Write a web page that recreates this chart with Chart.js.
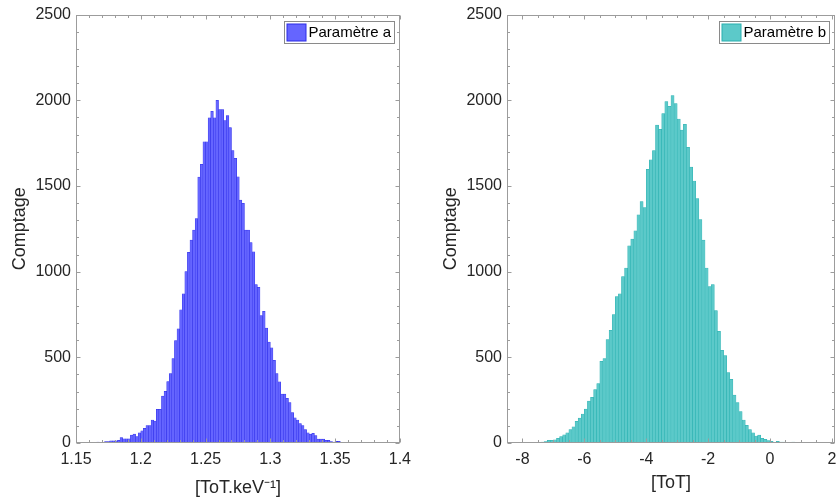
<!DOCTYPE html>
<html>
<head>
<meta charset="utf-8">
<script src="https://cdn.jsdelivr.net/npm/chart.js@4/dist/chart.umd.min.js"></script>
<style>
  html, body { margin: 0; padding: 0; background: #fff; overflow: hidden; width: 837px; height: 499px; }
  .panel { position: absolute; top: 0; }
</style>
</head>
<body>
<div class="panel" style="left:0"><canvas id="chartA" width="418" height="499"></canvas></div>
<div class="panel" style="left:431px"><canvas id="chartB" width="420" height="499"></canvas></div>
<script>
// histogram of parameter a : bins of 0.002 starting at 1.166
var aBinStart = 1.166;
var aBinWidth = 0.002;
var aCounts = [5, 0, 2, 8, 8, 12, 12, 12, 15, 31,
  25, 25, 25, 46, 52, 37, 60, 71, 85, 101,
  101, 134, 128, 196, 196, 274, 302, 358, 405, 492,
  598, 666, 777, 870, 1000, 1112, 1184, 1242, 1310, 1552,
  1626, 1758, 1758, 1897, 1936, 1897, 2000, 1946, 1946, 1882,
  1911, 1841, 1707, 1661, 1554, 1417, 1399, 1242, 1242, 1170,
  1116, 924, 909, 744, 769, 670, 589, 556, 483, 405,
  357, 285, 285, 260, 236, 178, 147, 134, 114, 101,
  79, 60, 52, 56, 43, 23, 23, 23, 15, 15,
  8, 5, 10, 10];
var aTicks = [1.15, 1.2, 1.25, 1.3, 1.35, 1.4];

// histogram of parameter b : bins of 0.1 starting at -7.5
var bBinStart = -7.5;
var bBinWidth = 0.1;
var bCounts = [3, 5, 8, 15, 15, 19, 27, 37, 48, 60,
  79, 95, 126, 145, 169, 198, 244, 266, 312, 347,
  477, 492, 603, 657, 750, 855, 870, 971, 1021, 1151,
  1190, 1238, 1331, 1409, 1374, 1597, 1653, 1707, 1855, 1831,
  1922, 1992, 1965, 2027, 1981, 1891, 1826, 1859, 1725, 1610,
  1529, 1426, 1304, 1184, 1021, 913, 924, 773, 651, 541,
  510, 411, 372, 279, 236, 184, 134, 103, 79, 60,
  41, 46, 27, 21, 14, 10, 2, 10, 6, 6,
  2, 0, 6];
var bTicks = [-8, -6, -4, -2, 0, 2];

var yTicks = [0, 500, 1000, 1500, 2000, 2500];

var textColor = "#262626";
var fontName = "'Liberation Sans', Arial, sans-serif";

function toPoints(start, width, counts) {
  var pts = [];
  for (var i = 0; i < counts.length; i++) {
    pts.push({ x: start + width * (i + 0.5), y: counts[i] });
  }
  return pts;
}

// box + inward tick marks like matlab, plus the small legend in the corner
var framePlugin = {
  id: "frame",
  afterDatasetsDraw: function (chart, args, opts) {
    var ctx = chart.ctx;
    var a = chart.chartArea;
    var xs = chart.scales.x;
    var ys = chart.scales.y;
    var l = Math.round(a.left) + 0.5, r = Math.round(a.right) - 0.5;
    var t = Math.round(a.top) + 0.5, b = Math.round(a.bottom) - 0.5;
    ctx.save();
    ctx.strokeStyle = "#9c9c9c";
    ctx.lineWidth = 1;
    ctx.strokeRect(l, t, r - l, b - t);

    function ticks(scale, minor, major, horiz) {
      var first = Math.ceil(scale.min / minor - 1e-6);
      var last = Math.floor(scale.max / minor + 1e-6);
      for (var i = first; i <= last; i++) {
        var v = i * minor;
        var q = v / major;
        var len = Math.abs(q - Math.round(q)) < 1e-6 ? 4 : 2.5;
        var p = Math.round(scale.getPixelForValue(v)) + 0.5;
        ctx.beginPath();
        if (horiz) {
          ctx.moveTo(p, b); ctx.lineTo(p, b - len);
          ctx.moveTo(p, t); ctx.lineTo(p, t + len);
        } else {
          ctx.moveTo(l, p); ctx.lineTo(l + len, p);
          ctx.moveTo(r, p); ctx.lineTo(r - len, p);
        }
        ctx.stroke();
      }
    }
    ticks(xs, opts.xMinor, opts.xMajor, true);
    ticks(ys, 100, 500, false);

    // legend
    var ds = chart.data.datasets[0];
    var w = 110, h = 22;
    var lx = Math.round(a.right) - 6 - w + 0.5;
    var ly = Math.round(a.top) + 6 + 0.5;
    ctx.fillStyle = "#fff";
    ctx.fillRect(lx, ly, w, h);
    ctx.strokeStyle = "#8a8a8a";
    ctx.strokeRect(lx, ly, w, h);
    ctx.fillStyle = ds.backgroundColor;
    ctx.fillRect(lx + 2.5, ly + 2.5, 19, 17);
    ctx.strokeStyle = ds.borderColor;
    ctx.strokeRect(lx + 2.5, ly + 2.5, 19, 17);
    ctx.fillStyle = "#000";
    ctx.font = "15px " + fontName;
    ctx.textBaseline = "middle";
    ctx.textAlign = "left";
    ctx.fillText(ds.label, lx + 24, ly + h / 2 + 0.5);
    ctx.restore();
  }
};

function makeHist(canvasId, label, points, fill, edge, xMin, xMax, xTicks, xMinor, xMajor, xTitle, xTitlePad, rightPad) {
  var ctx = document.getElementById(canvasId).getContext("2d");
  return new Chart(ctx, {
    type: "bar",
    data: {
      datasets: [
        {
          label: label,
          data: points,
          backgroundColor: fill,
          borderColor: edge,
          borderWidth: 0.5,
          barPercentage: 1,
          categoryPercentage: 1,
        },
      ],
    },
    options: {
      responsive: false,
      animation: false,
      events: [],
      layout: { padding: { top: 13, right: rightPad, bottom: 0, left: 0 } },
      plugins: {
        legend: { display: false },
        tooltip: { enabled: false },
        frame: { xMinor: xMinor, xMajor: xMajor },
      },
      scales: {
        x: {
          type: "linear",
          min: xMin,
          max: xMax,
          offset: false,
          grid: { display: false, drawTicks: false },
          border: { display: false },
          afterBuildTicks: function (scale) {
            scale.ticks = xTicks.map(function (v) { return { value: v }; });
          },
          afterFit: function (scale) { scale.height = 56; },
          ticks: {
            autoSkip: false,
            maxRotation: 0,
            padding: 7,
            color: textColor,
            font: { family: fontName, size: 16 },
            callback: function (v) { return String(+v.toFixed(2)); },
          },
          title: {
            display: true,
            text: xTitle,
            color: textColor,
            font: { family: fontName, size: 18 },
            padding: { top: 0, bottom: xTitlePad },
          },
        },
        y: {
          min: 0,
          max: 2500,
          grid: { display: false, drawTicks: false },
          border: { display: false },
          afterBuildTicks: function (scale) {
            scale.ticks = yTicks.map(function (v) { return { value: v }; });
          },
          afterFit: function (scale) { scale.width = 76; },
          ticks: {
            padding: 5,
            color: textColor,
            font: { family: fontName, size: 16 },
            callback: function (v) { return String(v); },
          },
          title: {
            display: true,
            text: "Comptage",
            color: textColor,
            font: { family: fontName, size: 18 },
            padding: { top: 9, bottom: 0 },
          },
        },
      },
    },
    plugins: [framePlugin],
  });
}

window.onload = function () {
  makeHist("chartA", "Paramètre a", toPoints(aBinStart, aBinWidth, aCounts),
    "#6565ff", "#2c2ce8", 1.15, 1.4, aTicks, 0.01, 0.05, "[ToT.keV⁻¹]", 0, 15);
  makeHist("chartB", "Paramètre b", toPoints(bBinStart, bBinWidth, bCounts),
    "#5cc9c9", "#28b0b0", -8.5, 2.1, bTicks, 0.5, 2, "[ToT]", 5, 16);
};
</script>
</body>
</html>
